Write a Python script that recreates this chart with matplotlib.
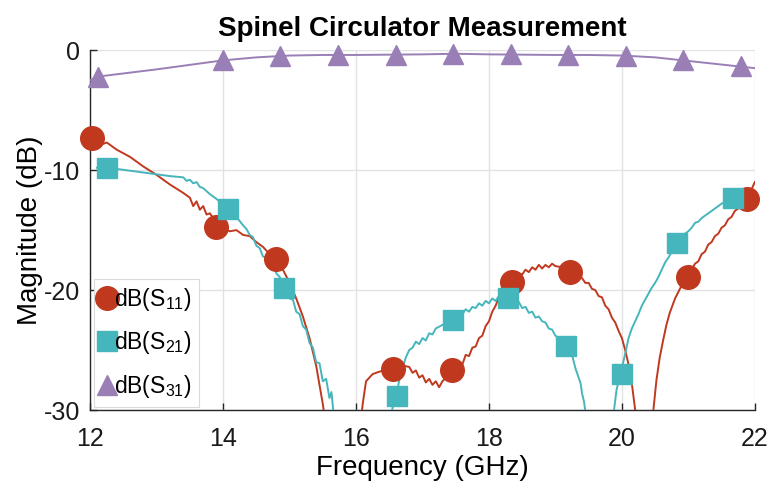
import matplotlib
matplotlib.use("Agg")
import matplotlib.pyplot as plt
from matplotlib.lines import Line2D

plt.rcParams['font.family'] = ['Liberation Sans', 'DejaVu Sans']
plt.rcParams['axes.unicode_minus'] = False

# ---------------- data ----------------
s11_freq = [12.0, 12.1, 12.2, 12.25, 12.3, 12.4, 12.6, 12.8, 13.0, 13.2, 13.4, 13.5, 13.55, 13.6, 13.65,
            13.7, 13.75, 13.8, 13.9, 14.0, 14.1, 14.2, 14.3, 14.4, 14.5, 14.6, 14.7, 14.8, 14.9, 15.0,
            15.1, 15.2, 15.3, 15.4, 15.5, 15.55, 15.7, 15.85, 16.0, 16.05, 16.1, 16.15, 16.25, 16.35,
            16.5, 16.6, 16.7, 16.8, 16.85, 16.9, 16.95, 17.0, 17.05, 17.1, 17.15, 17.2, 17.25, 17.3,
            17.35, 17.44, 17.5, 17.55, 17.6, 17.65, 17.7, 17.75, 17.8, 17.85, 17.9, 17.95, 18.0, 18.05,
            18.1, 18.15, 18.2, 18.3, 18.4, 18.45, 18.5, 18.55, 18.6, 18.65, 18.7, 18.75, 18.8, 18.85,
            18.9, 18.95, 19.0, 19.1, 19.2, 19.3, 19.4, 19.45, 19.5, 19.55, 19.6, 19.65, 19.7, 19.75,
            19.8, 19.85, 19.9, 19.95, 20.0, 20.05, 20.1, 20.15, 20.2, 20.25, 20.35, 20.42, 20.47,
            20.52, 20.57, 20.62, 20.67, 20.72, 20.8, 20.9, 21.0, 21.05, 21.1, 21.15, 21.2, 21.25,
            21.3, 21.35, 21.4, 21.45, 21.5, 21.55, 21.6, 21.65, 21.7, 21.75, 21.8, 21.85, 21.9,
            21.95, 22.0]
s11_db = [-7.3, -7.6, -7.8, -7.7, -7.9, -8.3, -8.9, -9.7, -10.4, -11.2, -11.9, -12.3, -13.0, -12.6, -13.3,
          -13.0, -13.7, -13.6, -14.4, -14.8, -15.1, -15.0, -15.4, -15.5, -16.0, -16.4, -17.0, -17.5, -18.3, -19.4,
          -20.7, -22.2, -24.0, -26.3, -29.5, -31.5, -38.0, -45.0, -36.0, -32.0, -29.5, -27.6, -27.0, -26.8,
          -26.6, -26.5, -26.3, -26.4, -26.9, -26.7, -27.3, -27.1, -27.7, -27.4, -27.9, -27.6, -28.1, -27.6,
          -27.3, -26.8, -26.6, -26.0, -26.2, -25.4, -25.5, -24.8, -24.7, -24.0, -23.8, -23.0, -22.6, -21.8,
          -21.3, -20.6, -20.3, -19.6, -19.0, -18.6, -18.7, -18.3, -18.5, -18.1, -18.3, -17.9, -18.2, -17.9,
          -18.1, -17.8, -18.0, -18.1, -18.4, -18.7, -19.0, -19.4, -19.4, -19.9, -20.0, -20.5, -20.6, -21.3,
          -21.6, -22.3, -22.7, -23.4, -24.0, -25.0, -26.2, -27.8, -30.0, -33.0, -40.0, -34.0, -30.2,
          -27.5, -25.6, -24.2, -22.9, -21.9, -20.7, -19.6, -18.8, -18.3, -17.8, -17.6, -17.0, -16.8,
          -16.2, -16.0, -15.5, -15.3, -14.8, -14.6, -14.1, -13.9, -13.4, -13.2, -12.8, -12.6, -12.3,
          -11.6, -11.0]

s21_freq = [12.1, 12.25, 12.4, 12.6, 12.8, 13.0, 13.2, 13.4, 13.45, 13.5, 13.55, 13.6, 13.65, 13.7, 13.8,
            13.9, 14.0, 14.1, 14.2, 14.3, 14.35, 14.4, 14.45, 14.5, 14.55, 14.6, 14.65, 14.7, 14.75, 14.8,
            14.85, 14.9, 14.95, 15.0, 15.05, 15.1, 15.15, 15.2, 15.25, 15.3, 15.35, 15.4, 15.45, 15.5,
            15.55, 15.6, 15.63, 15.66, 15.75, 15.95, 16.2, 16.4, 16.5, 16.55, 16.6, 16.65, 16.7, 16.75,
            16.8, 16.85, 16.9, 16.95, 17.0, 17.05, 17.1, 17.15, 17.2, 17.3, 17.4, 17.5, 17.55, 17.6, 17.65,
            17.7, 17.75, 17.8, 17.85, 17.9, 17.95, 18.0, 18.05, 18.1, 18.15, 18.2, 18.3, 18.4, 18.45, 18.5,
            18.55, 18.6, 18.65, 18.7, 18.75, 18.8, 18.85, 18.9, 18.95, 19.0, 19.05, 19.1, 19.15, 19.2,
            19.25, 19.3, 19.35, 19.38, 19.4, 19.43, 19.46, 19.55, 19.7, 19.8, 19.87, 19.92, 19.97, 20.0,
            20.05, 20.1, 20.15, 20.2, 20.25, 20.3, 20.35, 20.4, 20.45, 20.5, 20.55, 20.6, 20.65, 20.7,
            20.8, 20.9, 20.95, 21.0, 21.05, 21.1, 21.15, 21.2, 21.25, 21.3, 21.4, 21.5, 21.6, 21.7, 21.8,
            21.95]
s21_db = [-9.8, -9.8, -9.9, -10.05, -10.2, -10.35, -10.5, -10.6, -10.9, -10.8, -11.1, -11.0, -11.4, -11.5, -12.0,
          -12.4, -12.9, -13.3, -13.9, -14.6, -14.9, -15.4, -15.6, -16.3, -16.5, -17.2, -17.3, -17.9, -17.9, -18.6,
          -18.9, -19.6, -19.9, -20.7, -20.8, -21.8, -22.0, -23.0, -23.3, -24.4, -24.8, -26.0, -26.1, -27.6,
          -27.4, -29.0, -28.5, -30.2, -35.0, -45.0, -40.0, -34.0, -31.0, -29.8, -29.0, -27.5, -26.5, -25.6,
          -25.0, -24.8, -24.3, -24.5, -24.0, -24.2, -23.6, -23.7, -23.2, -22.9, -22.6, -22.3, -21.9, -22.0, -21.6,
          -21.8, -21.4, -21.5, -21.1, -21.3, -20.9, -21.1, -20.7, -20.9, -20.5, -20.6, -20.8, -21.1, -21.0, -21.5,
          -21.4, -21.9, -21.8, -22.3, -22.2, -22.6, -22.7, -23.2, -23.3, -23.8, -24.0, -24.4, -24.7, -25.2,
          -25.4, -26.5, -27.3, -27.8, -28.6, -29.3, -30.5, -36.0, -45.0, -36.0, -30.5, -28.3, -27.2, -26.5,
          -25.3, -24.0, -23.2, -22.6, -22.0, -21.3, -20.8, -20.3, -19.8, -19.4, -18.9, -18.3, -17.7, -17.3,
          -16.3, -15.6, -15.3, -15.1, -14.8, -14.4, -14.3, -14.0, -13.8, -13.6, -13.2, -12.8, -12.5, -12.3, -12.3,
          -12.3]

s31_freq = [12.0, 12.12, 13.0, 14.0, 14.5, 15.0, 15.5, 16.0, 17.0, 17.5, 18.0, 19.0, 19.5, 20.0, 20.5,
            21.0, 21.5, 22.0]
s31_db = [-2.5, -2.2, -1.6, -0.85, -0.6, -0.45, -0.4, -0.4, -0.35, -0.3, -0.35, -0.4, -0.4, -0.45, -0.6,
          -0.9, -1.2, -1.5]

# marker positions (subset of measured points)
s11_mk_freq = [12.03, 13.9, 14.8, 16.56, 17.44, 18.35, 19.22, 20.99, 21.88]
s11_mk_db = [-7.3, -14.7, -17.4, -26.6, -26.7, -19.3, -18.5, -18.9, -12.4]
s21_mk_freq = [12.25, 14.08, 14.92, 16.62, 17.46, 18.29, 19.16, 20.0, 20.83, 21.67]
s21_mk_db = [-9.8, -13.2, -19.8, -28.8, -22.5, -20.7, -24.7, -27.0, -16.1, -12.3]
s31_mk_freq = [12.12, 14.0, 14.86, 15.73, 16.6, 17.46, 18.33, 19.19, 20.06, 20.92, 21.79]
s31_mk_db = [-2.2, -0.85, -0.5, -0.4, -0.4, -0.3, -0.35, -0.4, -0.45, -0.8, -1.3]

x_ticks = [12, 14, 16, 18, 20, 22]
y_ticks = [-30, -20, -10, 0]
labels = ['dB(S$_{\\mathregular{11}}$)', 'dB(S$_{\\mathregular{21}}$)', 'dB(S$_{\\mathregular{31}}$)']

# ---------------- style ----------------
c_red = '#C0391F'
c_cyan = '#45B6BC'
c_purple = '#9A7FB6'

fig = plt.figure(figsize=(7.71, 4.87), dpi=100)
ax = fig.add_axes([0.117, 0.158, 0.862, 0.739])

ax.plot(s11_freq, s11_db, color=c_red, lw=1.4, zorder=3)
ax.plot(s21_freq, s21_db, color=c_cyan, lw=1.4, zorder=3)
ax.plot(s31_freq, s31_db, color=c_purple, lw=1.4, zorder=3)
ax.plot(s11_mk_freq, s11_mk_db, ls='none', marker='o', ms=17, color=c_red, mec=c_red, zorder=4, clip_on=False)
ax.plot(s21_mk_freq, s21_mk_db, ls='none', marker='s', ms=14, color=c_cyan, mec=c_cyan, zorder=4, clip_on=False)
ax.plot(s31_mk_freq, s31_mk_db, ls='none', marker='^', ms=15, color=c_purple, mec=c_purple, zorder=4, clip_on=False)

ax.set_xlim(12, 22)
ax.set_ylim(-30, 0)
ax.set_xticks(x_ticks)
ax.set_yticks(y_ticks)
ax.grid(True, color='#E2E2E2', lw=1.0)
ax.set_axisbelow(True)
for s in ['top', 'right']:
    ax.spines[s].set_visible(False)
for s in ['left', 'bottom']:
    ax.spines[s].set_color('#262626')
    ax.spines[s].set_linewidth(1.0)
ax.tick_params(direction='in', length=5, width=1, colors='#262626', labelsize=18,
               labelcolor='#1a1a1a', pad=7)
ax.tick_params(axis='x', pad=12)

ax.set_xlabel('Frequency (GHz)', fontsize=20, labelpad=3)
ax.set_ylabel('Magnitude (dB)', fontsize=20, labelpad=1)
ax.set_title('Spinel Circulator Measurement', fontsize=20, fontweight='bold', pad=10)

handles = [
    Line2D([], [], ls='none', marker='o', ms=17, color=c_red),
    Line2D([], [], ls='none', marker='s', ms=14, color=c_cyan),
    Line2D([], [], ls='none', marker='^', ms=15, color=c_purple),
]
leg = ax.legend(handles, labels, loc='lower left', bbox_to_anchor=(0.0, 0.0), fontsize=16.5,
                frameon=True, fancybox=False, edgecolor='#DADADA', framealpha=1.0,
                handlelength=0.6, handletextpad=0.0, labelspacing=0.72, borderpad=0.3,
                borderaxespad=0.15)
leg.get_frame().set_linewidth(0.8)
leg.set_zorder(5)

fig.savefig('out.png', dpi=100)
